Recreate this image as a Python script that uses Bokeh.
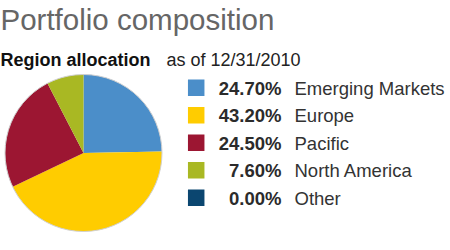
import math
from bokeh.plotting import figure
from bokeh.models import Range1d, ColumnDataSource
from bokeh.core.properties import value
from bokeh.embed import file_html
from bokeh.resources import INLINE

# ---- data ----
regions = ["Emerging Markets", "Europe", "Pacific", "North America", "Other"]
shares = [24.70, 43.20, 24.50, 7.60, 0.00]
colors = ["#4b8ec9", "#ffcc00", "#9c1632", "#a9b823", "#0b4670"]
title_text = "Portfolio composition"
subtitle_bold = "Region allocation"
subtitle_date = "as of 12/31/2010"

W, H = 450, 250
p = figure(width=W, height=H, output_backend="svg", toolbar_location=None,
           x_range=Range1d(0, W), y_range=Range1d(0, H), min_border=0)
p.axis.visible = False
p.grid.visible = False
p.outline_line_color = None
p.background_fill_color = "white"
p.border_fill_color = "white"

def Y(py):
    return H - py

FONT = value("Liberation Sans")

# ---- pie ----
cx, cy, r = 83, Y(152.5), 78.5
total = sum(shares)
starts, ends, cols = [], [], []
acc = 0.0
for s, c in zip(shares, colors):
    a0 = math.pi / 2 - 2 * math.pi * acc / total
    acc += s
    a1 = math.pi / 2 - 2 * math.pi * acc / total
    if s > 0:
        starts.append(a0)
        ends.append(a1)
        cols.append(c)
src = ColumnDataSource(dict(start=starts, end=ends, color=cols))
p.wedge(x=cx, y=cy, radius=r, start_angle="start", end_angle="end",
        direction="clock", fill_color="color", line_color=None, source=src)
p.circle(x=cx, y=cy, radius=r, fill_color=None, line_color="#d0d0d0", line_width=1)

# ---- titles ----
p.text(x=[0], y=[Y(19)], text=[title_text], text_font=FONT,
       text_font_size="29.5px", text_color="#666666", text_baseline="middle")
p.text(x=[0], y=[Y(59.5)], text=[subtitle_bold], text_font=FONT,
       text_font_size="18px", text_font_style="bold", text_color="#111111",
       text_baseline="middle")
p.text(x=[166], y=[Y(59.5)], text=[subtitle_date], text_font=FONT,
       text_font_size="18px", text_color="#222222", text_baseline="middle")

# ---- legend ----
row0, step = 87.2, 27.5
rows_y = [Y(row0 + i * step) for i in range(len(regions))]
text_y = [Y(row0 + 0.5 + i * step) for i in range(len(regions))]
p.rect(x=[195.7] * len(regions), y=rows_y, width=16.5, height=16.5,
       fill_color=colors, line_color=None)
p.text(x=[281] * len(regions), y=text_y, text=[f"{s:.2f}%" for s in shares],
       text_font=FONT, text_font_size="18.5px", text_font_style="bold",
       text_color="#2b2b2b", text_align="right", text_baseline="middle")
p.text(x=[294] * len(regions), y=text_y, text=regions,
       text_font=FONT, text_font_size="18.5px", text_color="#333333",
       text_baseline="middle")

open("out.html", "w").write(file_html(p, INLINE))
